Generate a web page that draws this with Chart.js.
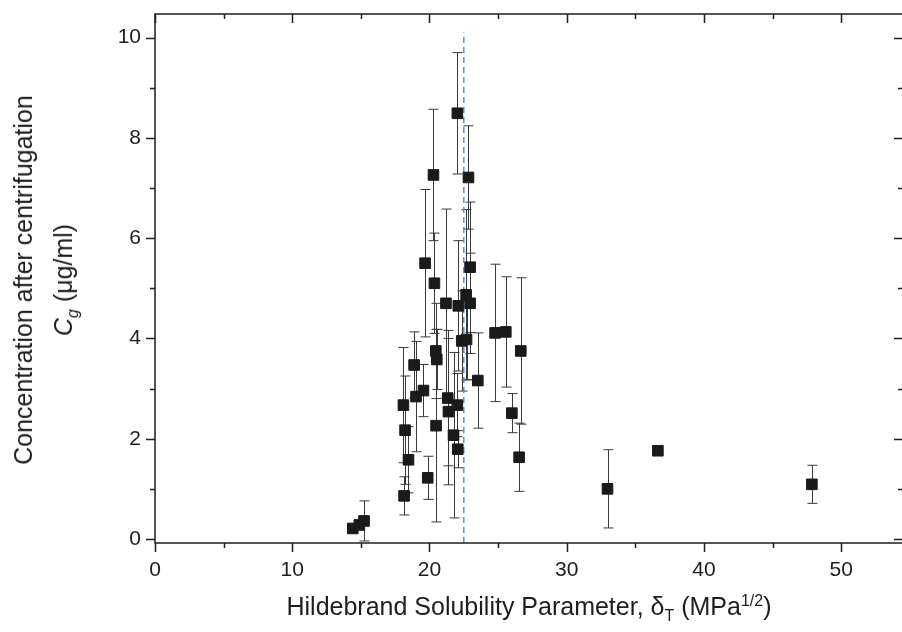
<!DOCTYPE html>
<html>
<head>
<meta charset="utf-8">
<script src="https://cdn.jsdelivr.net/npm/chart.js@4.4.1/dist/chart.umd.min.js"></script>
<style>
  html, body { margin: 0; padding: 0; overflow: hidden; background: #fff; }
  #wrap { position: relative; width: 904px; height: 632px; }
  .axt { position: absolute; font-family: "Liberation Sans", Arial, sans-serif; font-size: 25px; color: #1e1e1e; white-space: nowrap; }
  #xTitle { left: 529px; top: 592px; transform: translateX(-50%); }
  #yTitle { left: 48px; top: 280px; transform: translate(-50%, -50%) rotate(-90deg); text-align: center; line-height: 40px; }
  sub, sup { font-size: 16px; }
</style>
</head>
<body>
<div id="wrap">
  <canvas id="chart" width="904" height="632"></canvas>
  <div class="axt" id="xTitle">Hildebrand Solubility Parameter, &delta;<sub>T</sub> (MPa<sup>1/2</sup>)</div>
  <div class="axt" id="yTitle">Concentration after centrifugation<br><i>C</i><sub><i>g</i></sub> (&mu;g/ml)</div>
</div>
<script>
// solubility parameter (MPa^1/2), concentration (ug/ml) and its error
const deltaT = [14.41, 14.89, 15.23, 18.15, 18.47, 18.22, 18.10, 18.88, 19.02, 19.56,
                19.87, 19.68, 20.29, 20.36, 20.46, 20.53, 20.48, 21.20, 21.33, 21.38,
                21.75, 22.03, 22.06, 22.03, 22.10, 22.35, 22.67, 22.70, 22.84, 22.96,
                22.96, 23.52, 24.78, 25.56, 26.00, 26.65, 26.53, 32.97, 36.64, 47.86];
const concCg = [0.21, 0.28, 0.36, 0.86, 1.58, 2.17, 2.67, 3.47, 2.84, 2.96,
                1.22, 5.50, 7.26, 5.10, 3.75, 3.58, 2.26, 4.70, 2.81, 2.54,
                2.07, 2.67, 1.79, 8.49, 4.65, 3.95, 4.87, 3.98, 7.21, 5.42,
                4.70, 3.16, 4.11, 4.13, 2.51, 3.75, 1.63, 1.00, 1.76, 1.09];
const concErr = [0, 0, 0.40, 0.38, 0.66, 1.08, 1.15, 0.66, 1.10, 0.52,
                 0.43, 1.47, 1.31, 1.00, 0.95, 0.60, 1.92, 1.88, 1.35, 1.46,
                 1.65, 0.63, 0.37, 1.21, 1.30, 1.00, 1.70, 0.80, 1.03, 1.30,
                 1.00, 0.95, 1.37, 1.10, 0.39, 1.46, 0.68, 0.78, 0, 0.38];

// vertical reference line
const refDelta = 22.5;
const refSpan = [-0.08, 10.1];

const xRange = [0, 54.5];
const yRange = [-0.08, 10.47];
const xMajor = [0, 10, 20, 30, 40, 50];
const yMajor = [0, 2, 4, 6, 8, 10];

const points = deltaT.map((x, i) => ({ x: x, y: concCg[i], err: concErr[i] }));

const INK = '#1e1e1e';
const FONT = '"Liberation Sans", Arial, sans-serif';

const errorBars = {
  id: 'errorBars',
  beforeDatasetsDraw(chart) {
    const ctx = chart.ctx;
    const xs = chart.scales.x, ys = chart.scales.y;
    ctx.save();
    ctx.strokeStyle = '#3a3a3a';
    ctx.lineWidth = 1;
    points.forEach(p => {
      if (!p.err) return;
      const px = Math.round(xs.getPixelForValue(p.x)) + 0.5;
      const top = ys.getPixelForValue(p.y + p.err);
      const bot = ys.getPixelForValue(p.y - p.err);
      ctx.beginPath();
      ctx.moveTo(px, top); ctx.lineTo(px, bot);
      ctx.moveTo(px - 5, top); ctx.lineTo(px + 5, top);
      ctx.moveTo(px - 5, bot); ctx.lineTo(px + 5, bot);
      ctx.stroke();
    });
    ctx.restore();
  }
};

const frame = {
  id: 'frame',
  afterDraw(chart) {
    const ctx = chart.ctx;
    const a = chart.chartArea;
    const xs = chart.scales.x, ys = chart.scales.y;
    ctx.save();
    ctx.strokeStyle = INK;
    ctx.lineWidth = 1.5;
    ctx.strokeRect(a.left, a.top, a.right - a.left, a.bottom - a.top);
    ctx.beginPath();
    const xt = [];
    xMajor.forEach(v => { xt.push([v, 9]); if (v + 5 <= xRange[1]) xt.push([v + 5, 5]); });
    xt.forEach(([v, len]) => {
      const px = Math.round(xs.getPixelForValue(v)) + 0.5;
      ctx.moveTo(px, a.bottom); ctx.lineTo(px, a.bottom + len);
      ctx.moveTo(px, a.top); ctx.lineTo(px, a.top + len);
    });
    const yt = [];
    yMajor.forEach(v => { yt.push([v, 9]); if (v + 1 <= yRange[1]) yt.push([v + 1, 5]); });
    yt.forEach(([v, len]) => {
      const py = Math.round(ys.getPixelForValue(v)) + 0.5;
      ctx.moveTo(a.left, py); ctx.lineTo(a.left - len, py);
      ctx.moveTo(a.right, py); ctx.lineTo(a.right - len, py);
    });
    ctx.stroke();
    ctx.restore();
  }
};

function noPad(scale) {
  scale.paddingTop = 0;
  scale.paddingBottom = 0;
  scale.paddingLeft = 0;
  scale.paddingRight = 0;
}

new Chart(document.getElementById('chart'), {
  type: 'scatter',
  data: {
    datasets: [
      {
        data: points,
        pointStyle: 'rect',
        pointRadius: 7.5,
        pointBackgroundColor: '#1a1a1a',
        pointBorderColor: '#1a1a1a',
        pointBorderWidth: 1
      },
      {
        type: 'line',
        data: [{ x: refDelta, y: refSpan[0] }, { x: refDelta, y: refSpan[1] }],
        borderColor: '#5b8fd6',
        borderWidth: 1.5,
        borderDash: [6, 4],
        pointRadius: 0,
        fill: false
      }
    ]
  },
  options: {
    responsive: false,
    animation: false,
    devicePixelRatio: 1,
    layout: { autoPadding: false, padding: { top: 14, right: 1, left: 0, bottom: 0 } },
    plugins: { legend: { display: false }, tooltip: { enabled: false } },
    scales: {
      x: {
        type: 'linear',
        min: xRange[0], max: xRange[1],
        grid: { display: false, drawTicks: false },
        border: { display: false },
        ticks: {
          stepSize: 10, includeBounds: false, padding: 15,
          color: INK, font: { family: FONT, size: 21 }
        },
        afterFit(scale) { scale.height = 89; noPad(scale); }
      },
      y: {
        min: yRange[0], max: yRange[1],
        grid: { display: false, drawTicks: false },
        border: { display: false },
        ticks: {
          stepSize: 2, includeBounds: false, padding: 14,
          color: INK, font: { family: FONT, size: 21 }
        },
        afterFit(scale) { scale.width = 155; noPad(scale); }
      }
    }
  },
  plugins: [errorBars, frame]
});
</script>
</body>
</html>
